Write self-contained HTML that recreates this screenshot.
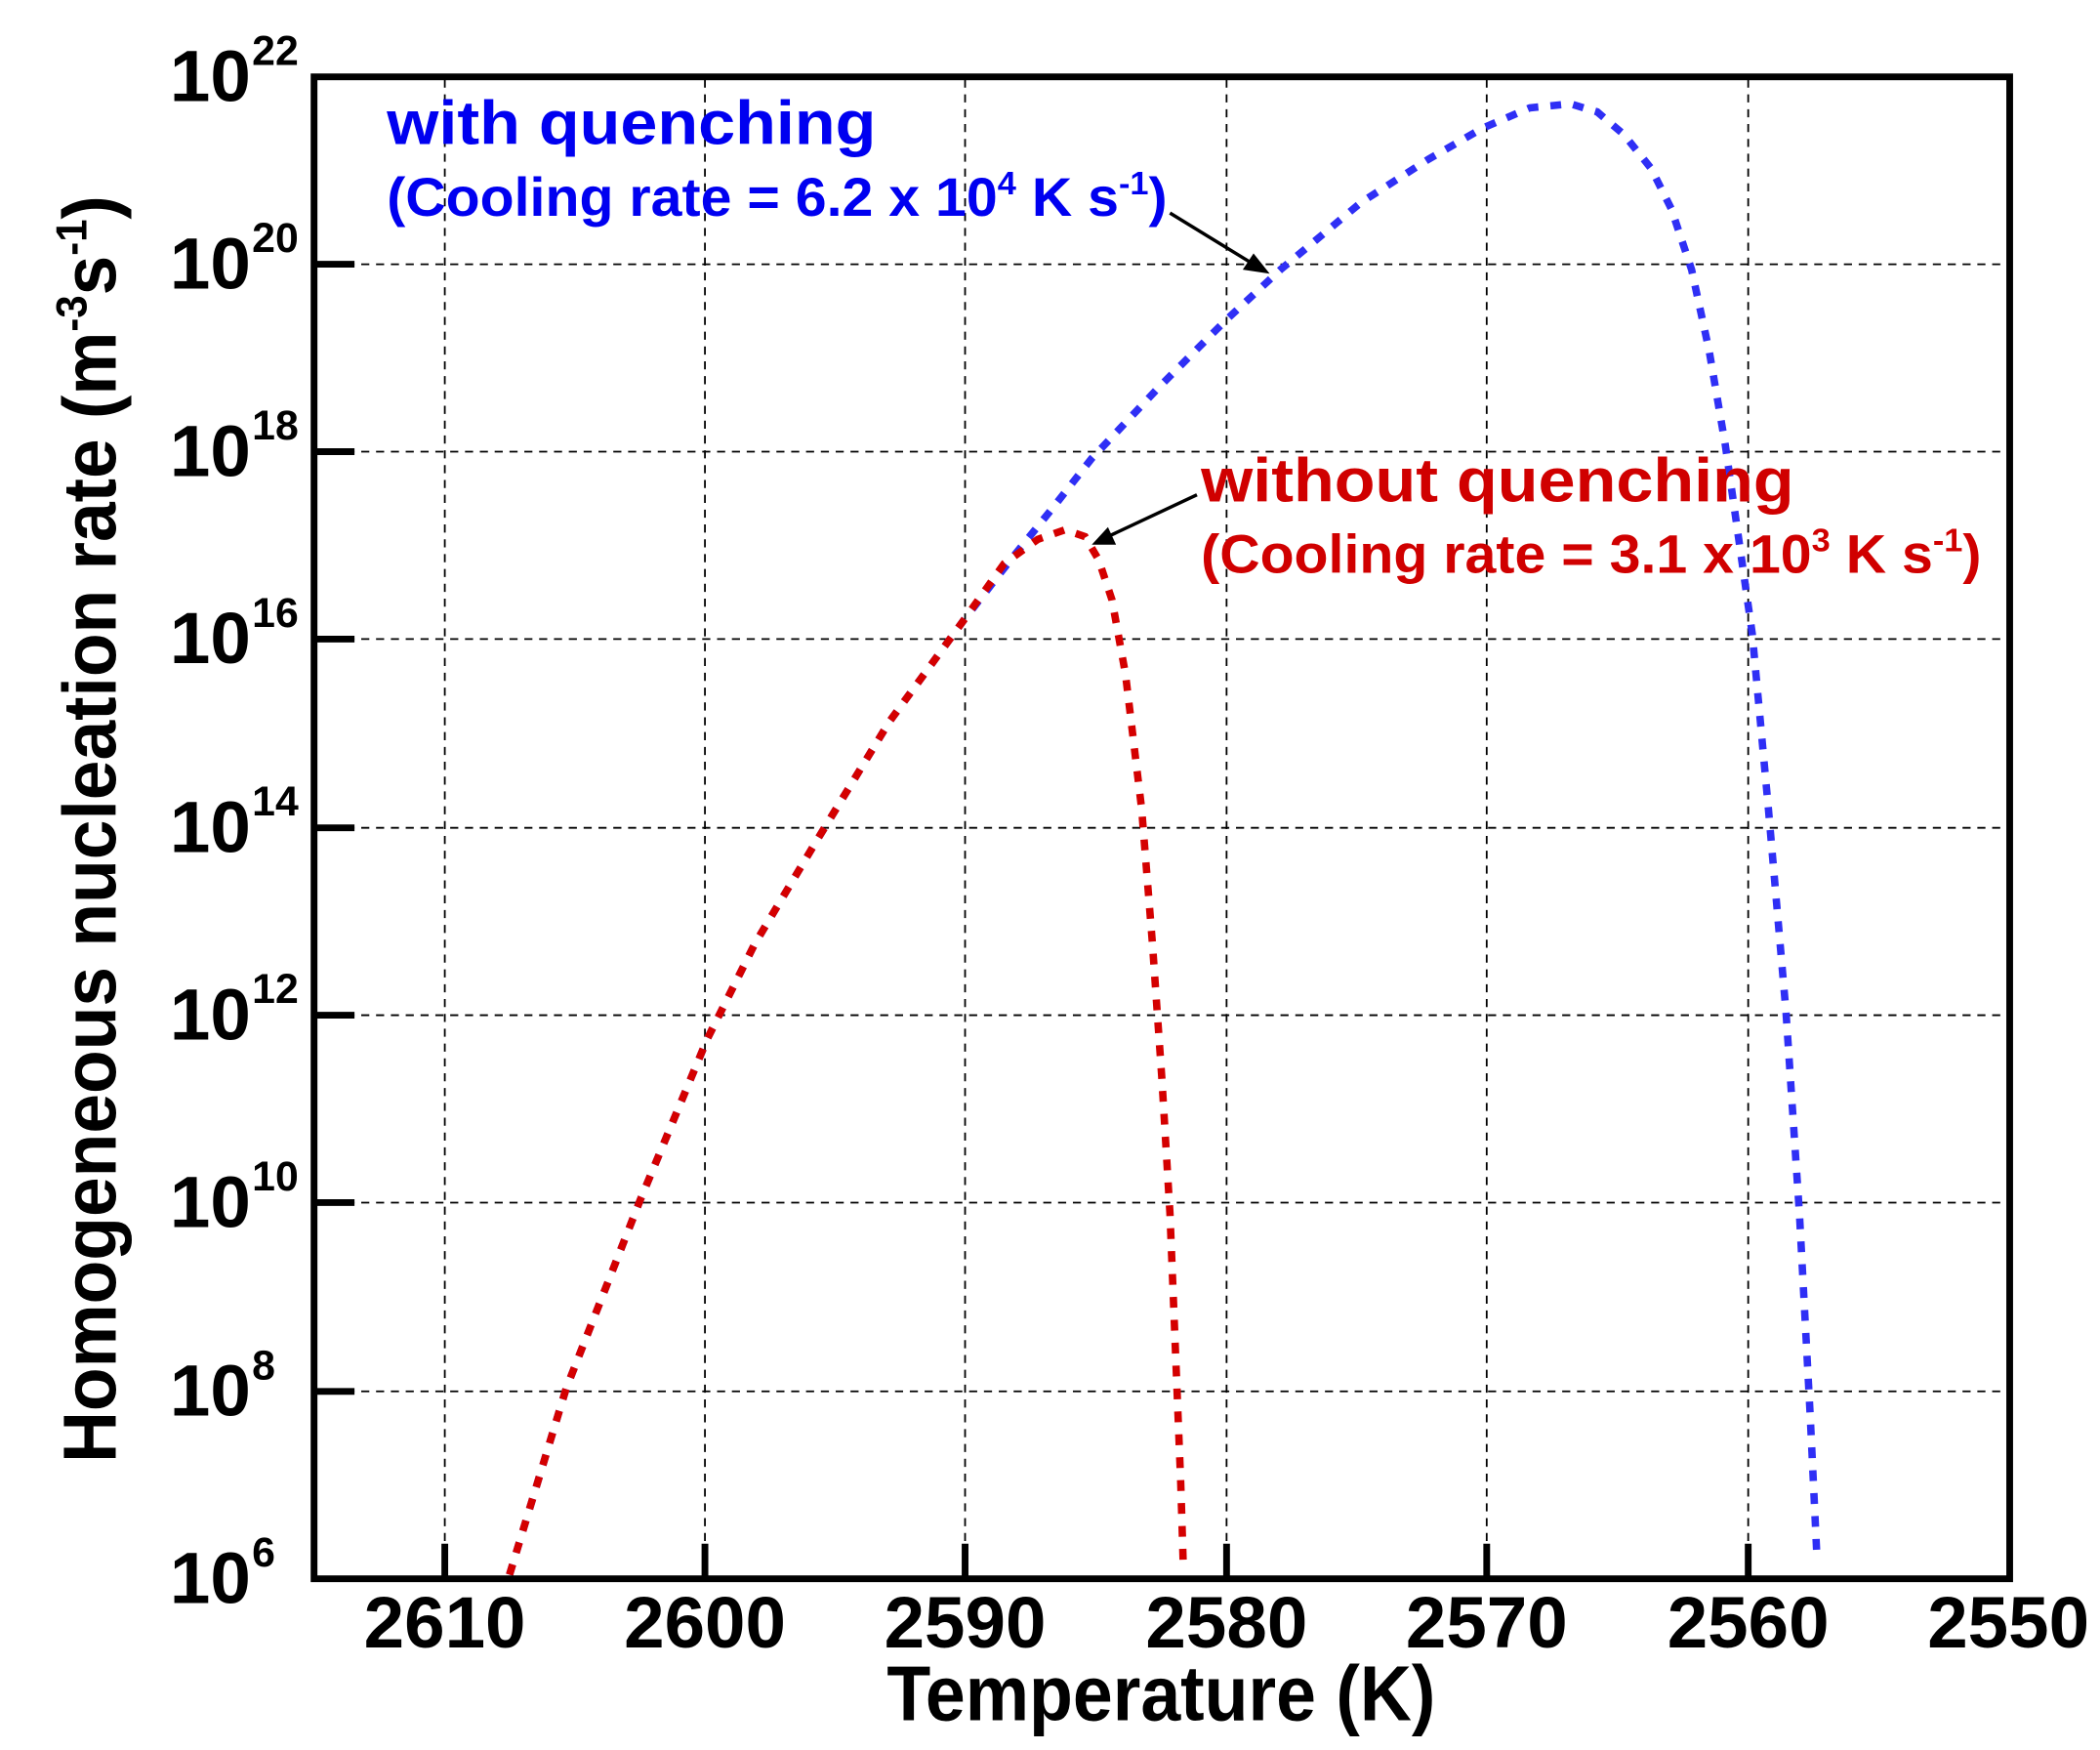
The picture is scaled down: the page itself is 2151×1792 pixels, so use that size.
<!DOCTYPE html>
<html><head><meta charset="utf-8"><style>
html,body{margin:0;padding:0;background:#fff;}
svg{display:block;font-family:"Liberation Sans",Arial,sans-serif;font-weight:bold;}
</style></head><body>
<svg width="2151" height="1792" viewBox="0 0 1558 1298" preserveAspectRatio="none" xmlns="http://www.w3.org/2000/svg">
<g stroke="#000" stroke-width="1.3" stroke-dasharray="6,5" fill="none">
<line x1="330" y1="59" x2="330" y2="1169"/><line x1="523" y1="59" x2="523" y2="1169"/>
<line x1="716" y1="59" x2="716" y2="1169"/><line x1="910" y1="59" x2="910" y2="1169"/>
<line x1="1103" y1="59" x2="1103" y2="1169"/><line x1="1297" y1="59" x2="1297" y2="1169"/>
<line x1="235" y1="196" x2="1489" y2="196"/><line x1="235" y1="335" x2="1489" y2="335"/>
<line x1="235" y1="474" x2="1489" y2="474"/><line x1="235" y1="614" x2="1489" y2="614"/>
<line x1="235" y1="753" x2="1489" y2="753"/><line x1="235" y1="892" x2="1489" y2="892"/>
<line x1="235" y1="1032" x2="1489" y2="1032"/>
</g>
<g stroke="#000" stroke-width="5">
<line x1="233" y1="196" x2="263" y2="196"/><line x1="233" y1="335" x2="263" y2="335"/>
<line x1="233" y1="474" x2="263" y2="474"/><line x1="233" y1="614" x2="263" y2="614"/>
<line x1="233" y1="753" x2="263" y2="753"/><line x1="233" y1="892" x2="263" y2="892"/>
<line x1="233" y1="1032" x2="263" y2="1032"/>
<line x1="330" y1="1171" x2="330" y2="1145"/><line x1="523" y1="1171" x2="523" y2="1145"/>
<line x1="716" y1="1171" x2="716" y2="1145"/><line x1="910" y1="1171" x2="910" y2="1145"/>
<line x1="1103" y1="1171" x2="1103" y2="1145"/><line x1="1297" y1="1171" x2="1297" y2="1145"/>
</g>
<path d="M378,1168 L420,1030 L475,890 L525,770 L560,700 L605,625 L660,535 L715,460 L750,415 L780,378 L810,340 L860,287 L910,237 L950,200 L1010,150 L1060,118 L1100,95 L1135,80 L1165,77 L1185,83 L1205,100 L1225,125 L1240,155 L1255,200 L1268,260 L1280,330 L1290,400 L1300,470 L1312,600 L1325,750 L1335,900 L1343,1050 L1348,1155" fill="none" stroke="#2f2ff5" stroke-width="5.5" stroke-dasharray="8,9"/>
<path d="M378,1168 L420,1030 L475,890 L525,770 L560,700 L605,625 L660,535 L715,460 L745,418 L770,400 L790,393 L805,398 L815,415 L825,445 L835,500 L847,600 L855,700 L862,800 L868,900 L872,1000 L876,1100 L878,1165" fill="none" stroke="#d40000" stroke-width="5.5" stroke-dasharray="8,9"/>
<rect x="233" y="57" width="1258" height="1114" fill="none" stroke="#000" stroke-width="5"/>
<g stroke="#000" stroke-width="2.5"><line x1="868" y1="158" x2="930" y2="196"/><line x1="888" y1="367" x2="822" y2="398"/></g>
<polygon points="942,203 922,200 930,188" fill="#000"/>
<polygon points="810,404 822,391 828,404" fill="#000"/>
<g font-size="54" text-anchor="end">
<text x="186" y="75">10</text><text x="186" y="214">10</text><text x="186" y="353">10</text><text x="186" y="492">10</text>
<text x="186" y="632">10</text><text x="186" y="771">10</text><text x="186" y="910">10</text><text x="186" y="1050">10</text><text x="186" y="1189">10</text>
</g>
<g font-size="31" text-anchor="start">
<text x="187" y="48">22</text><text x="187" y="187">20</text><text x="187" y="326">18</text><text x="187" y="465">16</text>
<text x="187" y="605">14</text><text x="187" y="744">12</text><text x="187" y="883">10</text><text x="187" y="1023">8</text><text x="187" y="1162">6</text>
</g>
<g font-size="54" text-anchor="middle">
<text x="330" y="1222">2610</text><text x="523" y="1222">2600</text><text x="716" y="1222">2590</text><text x="910" y="1222">2580</text>
<text x="1103" y="1222">2570</text><text x="1297" y="1222">2560</text><text x="1490" y="1222">2550</text>
</g>
<text x="658" y="1276" font-size="58" textLength="407" lengthAdjust="spacingAndGlyphs">Temperature (K)</text>
<text transform="translate(86,615) rotate(-90)" font-size="56" text-anchor="middle" textLength="940" lengthAdjust="spacingAndGlyphs">Homogeneous nucleation rate (m<tspan font-size="32" dy="-22">-3</tspan><tspan dy="22">s</tspan><tspan font-size="32" dy="-22">-1</tspan><tspan dy="22">)</tspan></text>
<text x="287" y="107" font-size="46" fill="#0000f0" textLength="363" lengthAdjust="spacingAndGlyphs">with quenching</text>
<text x="287" y="160" font-size="40" fill="#0000f0" textLength="579" lengthAdjust="spacingAndGlyphs">(Cooling rate = 6.2 x 10<tspan font-size="24" dy="-16">4</tspan><tspan dy="16"> K s</tspan><tspan font-size="24" dy="-16">-1</tspan><tspan dy="16">)</tspan></text>
<text x="891" y="372" font-size="46" fill="#d00000" textLength="440" lengthAdjust="spacingAndGlyphs">without quenching</text>
<text x="891" y="425" font-size="40" fill="#d00000" textLength="579" lengthAdjust="spacingAndGlyphs">(Cooling rate = 3.1 x 10<tspan font-size="24" dy="-16">3</tspan><tspan dy="16"> K s</tspan><tspan font-size="24" dy="-16">-1</tspan><tspan dy="16">)</tspan></text>
</svg>
</body></html>
